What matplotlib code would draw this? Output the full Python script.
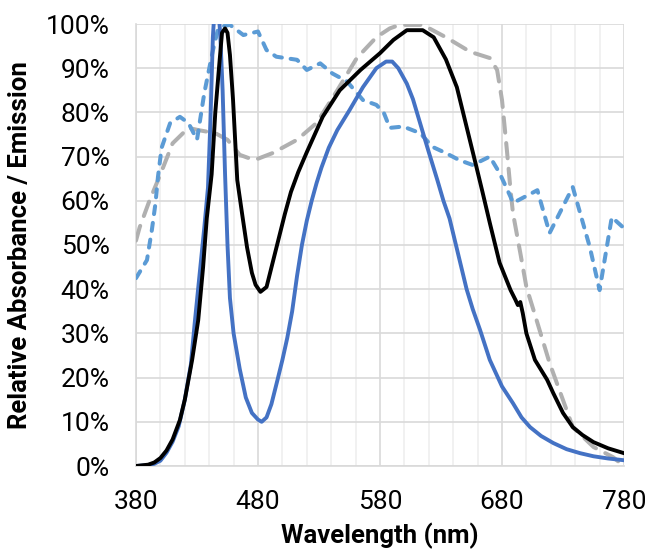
import matplotlib
matplotlib.use("Agg")
import matplotlib.pyplot as plt
from matplotlib.ticker import MultipleLocator, PercentFormatter

plt.rcParams['font.family'] = ['Roboto', 'DejaVu Sans']

# emission spectrum (blue, solid)
wl_blue = [380, 390, 395, 400, 405, 410, 415, 420, 425, 428, 432, 436, 439, 441, 443, 445,
           447, 449, 451, 453, 455, 457, 460, 465, 470, 475, 480, 483, 487, 491, 496, 500,
           504, 508, 512, 516, 520, 524, 528, 532, 538, 545, 555, 566, 577, 585, 590, 595, 602,
           607, 615, 620, 627, 632, 637, 644, 651, 656, 662, 670, 680, 689, 696, 703, 712,
           722, 733, 744, 755, 767, 780]
em_blue = [0.0, 0.002, 0.005, 0.012, 0.03, 0.055, 0.09, 0.15, 0.23, 0.32, 0.43, 0.54, 0.63, 0.78, 0.97, 1.06,
           1.05, 0.98, 0.85, 0.66, 0.50, 0.38, 0.30, 0.22, 0.155, 0.12, 0.105, 0.10, 0.11, 0.14, 0.195, 0.24,
           0.29, 0.35, 0.43, 0.50, 0.555, 0.60, 0.64, 0.675, 0.72, 0.76, 0.805, 0.857, 0.90, 0.915, 0.915, 0.90, 0.865,
           0.83, 0.756, 0.71, 0.647, 0.60, 0.56, 0.48, 0.40, 0.355, 0.308, 0.24, 0.18, 0.142, 0.11, 0.088, 0.068,
           0.052, 0.038, 0.029, 0.022, 0.017, 0.013]

# second emission spectrum (black, solid)
wl_black = [380, 390, 395, 400, 405, 410, 416, 420, 423, 426, 431, 435, 438, 442, 445, 448,
            450.5, 453, 455, 457, 459.5, 463, 467, 471, 475, 478, 482, 487, 492, 497, 502, 507,
            513, 520, 533, 547, 564, 580, 591, 602, 615, 624, 634, 643, 651, 659, 664, 670,
            678, 687, 691, 693, 695, 697, 700, 707, 717, 722, 730, 738, 746, 755, 767, 780]
em_black = [0.0, 0.003, 0.008, 0.018, 0.035, 0.06, 0.104, 0.15, 0.195, 0.24, 0.33, 0.45, 0.56, 0.66, 0.80, 0.90,
            0.98, 0.99, 0.98, 0.93, 0.83, 0.647, 0.57, 0.495, 0.437, 0.41, 0.394, 0.405, 0.46, 0.515, 0.57, 0.62,
            0.665, 0.71, 0.79, 0.85, 0.896, 0.934, 0.964, 0.986, 0.986, 0.97, 0.92, 0.857, 0.767, 0.677, 0.62, 0.55,
            0.46, 0.398, 0.376, 0.364, 0.371, 0.346, 0.30, 0.24, 0.195, 0.165, 0.12, 0.088, 0.07, 0.054, 0.04, 0.029]

# absorbance (light blue, short dash)
wl_abs1 = [380, 389, 393, 396, 398, 401, 408, 416, 423, 430, 436, 443, 447, 449, 457, 468,
           480, 487, 495, 512, 520, 531, 541, 553, 566, 577, 583, 588, 599, 613, 623, 634,
           645, 656, 670, 678, 687, 689, 709, 719, 738, 752, 760, 770, 780]
ab_abs1 = [0.425, 0.466, 0.534, 0.595, 0.654, 0.72, 0.776, 0.79, 0.776, 0.738, 0.844, 0.94, 0.986, 0.994, 0.998, 0.975,
           0.983, 0.941, 0.926, 0.919, 0.896, 0.911, 0.888, 0.87, 0.828, 0.817, 0.80, 0.765, 0.768, 0.753, 0.722, 0.708,
           0.692, 0.681, 0.70, 0.663, 0.609, 0.595, 0.624, 0.527, 0.631, 0.495, 0.398, 0.563, 0.538]

# absorbance (gray, long dash)
wl_abs2 = [380, 383, 391, 400, 410, 423, 431, 445, 455, 465, 477, 492, 512, 528, 545, 561,
           577, 588, 596, 615, 634, 654, 670, 676, 680, 684, 687, 689, 695, 700, 709, 719,
           727, 738, 755, 771, 779]
ab_abs2 = [0.51, 0.54, 0.60, 0.66, 0.73, 0.765, 0.76, 0.753, 0.738, 0.704, 0.692, 0.708, 0.738, 0.776, 0.85, 0.923,
           0.97, 0.99, 0.998, 0.998, 0.97, 0.937, 0.923, 0.896, 0.828, 0.715, 0.624, 0.572, 0.482, 0.405, 0.324, 0.233,
           0.172, 0.088, 0.043, 0.02, 0.002]

x_ticks = [380, 480, 580, 680, 780]

fig = plt.figure(figsize=(6.47, 5.56), dpi=100)
ax = fig.add_axes([136 / 647, 1 - 466 / 556, 488 / 647, 442 / 556])

ax.plot(wl_abs2, ab_abs2, color='#B0B0B0', lw=2.9, linestyle=(0, (3.8, 2.6)),
        dash_capstyle='round', zorder=3)
ax.plot(wl_abs1, ab_abs1, color='#5B9BD5', lw=2.9, linestyle=(0, (2.0, 2.2)),
        dash_capstyle='round', zorder=4)
ax.plot(wl_blue, em_blue, color='#4472C4', lw=2.8, zorder=5)
ax.plot(wl_black, em_black, color='black', lw=2.8, zorder=6)

ax.set_xlim(380, 780)
ax.set_ylim(0, 1)
ax.set_xticks(x_ticks)
ax.xaxis.set_minor_locator(MultipleLocator(20))
ax.yaxis.set_major_locator(MultipleLocator(0.1))
ax.yaxis.set_major_formatter(PercentFormatter(1.0, decimals=0))

ax.grid(True, which='major', color='#D9D9D9', lw=1.2, zorder=0)
ax.grid(True, which='minor', axis='x', color='#EFEFEF', lw=1.2, zorder=0)
ax.set_axisbelow(True)

for side in ['top', 'right']:
    ax.spines[side].set_visible(False)
for side in ['left', 'bottom']:
    ax.spines[side].set_color('#D9D9D9')
    ax.spines[side].set_linewidth(1.2)

ax.tick_params(which='both', length=0, labelsize=19, colors='black')
ax.tick_params(axis='y', pad=19)
ax.tick_params(axis='x', pad=17)

ax.set_xlabel('Wavelength (nm)', fontsize=18.5, fontweight='bold')
ax.set_ylabel('Relative Absorbance / Emission', fontsize=18.5, fontweight='bold')
ax.xaxis.set_label_coords(0.5, -0.128)
ax.yaxis.set_label_coords(-0.213, 0.5)

fig.savefig('out.png', dpi=100)
